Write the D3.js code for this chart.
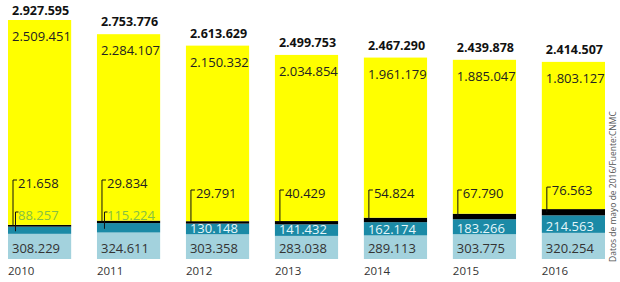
<!DOCTYPE html>
<html>
<head>
<meta charset="utf-8">
<script src="https://cdn.jsdelivr.net/npm/d3@7"></script>
<style>
  body { margin: 0; background: #fff; }
  svg text { font-family: "Open Sans", sans-serif; }
</style>
</head>
<body>
<div id="chart"></div>
<script>
const years = ["2010", "2011", "2012", "2013", "2014", "2015", "2016"];
const lightBlue = [308229, 324611, 303358, 283038, 289113, 303775, 320254];
const teal = [88257, 115224, 130148, 141432, 162174, 183266, 214563];
const black = [21658, 29834, 29791, 40429, 54824, 67790, 76563];
const yellow = [2509451, 2284107, 2150332, 2034854, 1961179, 1885047, 1803127];
const totals = [2927595, 2753776, 2613629, 2499753, 2467290, 2439878, 2414507];
const tealCallout = [true, true, false, false, false, false, false];

const fmt = v => d3.format(",")(v).replace(/,/g, ".");

const W = 620, H = 282;
const svg = d3.select("#chart").append("svg")
    .attr("width", W).attr("height", H);

const x = d3.scaleBand().domain(years).range([8, 605]).paddingInner(0.29).paddingOuter(0);
const y = d3.scaleLinear().domain([0, 2927595]).range([259, 20]);

const colors = { lightBlue: "#a3d2dd", teal: "#1b8aa6", black: "#000", yellow: "#ffff00" };

years.forEach((yr, i) => {
    const x0 = x(yr), bw = x.bandwidth();
    let base = 0;
    const segs = [
        ["lightBlue", lightBlue[i]],
        ["teal", teal[i]],
        ["black", black[i]],
        ["yellow", yellow[i]]
    ];
    const pos = {};
    segs.forEach(([k, v]) => {
        pos[k] = { bottom: y(base), top: y(base + v) };
        svg.append("rect")
            .attr("x", x0).attr("width", bw)
            .attr("y", y(base + v))
            .attr("height", y(base) - y(base + v))
            .attr("fill", colors[k]);
        base += v;
    });

    // total on top
    svg.append("text")
        .attr("x", x0 + 4).attr("y", Math.max(15, y(totals[i]) - 8))
        .attr("font-size", 12.5).attr("font-weight", "bold")
        .attr("fill", "#111")
        .text(fmt(totals[i]));

    // yellow value
    svg.append("text")
        .attr("x", x0 + 4).attr("y", pos.yellow.top + 21)
        .attr("font-size", 13).attr("fill", "#222")
        .text(fmt(yellow[i]));

    // light blue value
    svg.append("text")
        .attr("x", x0 + 4).attr("y", pos.lightBlue.bottom - 6)
        .attr("font-size", 13).attr("fill", "#333")
        .text(fmt(lightBlue[i]));

    // teal value
    if (tealCallout[i]) {
        const ly = 220;
        const lx = x0 + 7.5;
        svg.append("path")
            .attr("d", `M${lx},${(pos.teal.top + pos.teal.bottom) / 2 + 1}V${ly - 8}H${lx + 3}`)
            .attr("fill", "none").attr("stroke", "#111").attr("stroke-width", 1);
        svg.append("text")
            .attr("x", x0 + 10).attr("y", ly)
            .attr("font-size", 13).attr("fill", "#86c043")
            .text(fmt(teal[i]));
    } else {
        svg.append("text")
            .attr("x", x0 + 4).attr("y", pos.teal.bottom - 1.5)
            .attr("font-size", 13).attr("fill", "#e4f6fa")
            .text(fmt(teal[i]));
    }

    // black value callout
    const by = tealCallout[i] ? 188 : Math.min(198, pos.black.top - 14);
    const bx = x0 + 5;
    svg.append("path")
        .attr("d", `M${bx},${(pos.black.top + pos.black.bottom) / 2}V${by - 8}H${bx + 4}`)
        .attr("fill", "none").attr("stroke", "#111").attr("stroke-width", 1);
    svg.append("text")
        .attr("x", x0 + 10).attr("y", by)
        .attr("font-size", 13).attr("fill", "#222")
        .text(fmt(black[i]));
});

// year axis labels
svg.append("g").selectAll("text")
    .data(years).join("text")
    .attr("x", d => x(d))
    .attr("y", 275)
    .attr("font-size", 11.5).attr("fill", "#333")
    .text(d => d);

// source note
svg.append("text")
    .attr("transform", "translate(616,262) rotate(-90)")
    .attr("font-size", 8.5).attr("fill", "#555")
    .text("Datos de mayo de 2016/Fuente:CNMC");
</script>
</body>
</html>
